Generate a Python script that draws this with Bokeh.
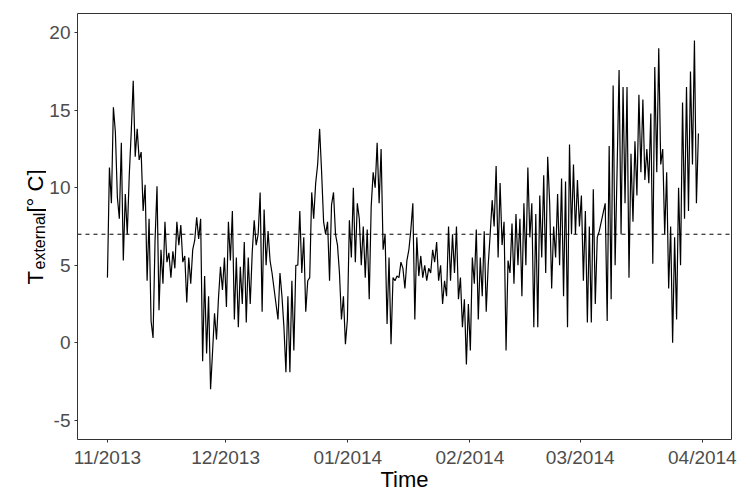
import math
import pandas as pd
from bokeh.plotting import figure
from bokeh.layouts import row
from bokeh.models import Span, Label, Range1d, MonthsTicker, DatetimeTickFormatter, FixedTicker
from bokeh.embed import file_html
from bokeh.resources import INLINE

# ---- data (two readings per day) ----
start_time = "2013-11-01 00:00"
end_time = "2014-03-31 00:00"

temp_nov = [4.2, 11.3, 9.0, 15.2, 13.6, 9.4, 8.0, 12.9, 5.3, 9.6, 7.0, 10.8, 13.6, 16.9, 12.0, 13.8,
            11.8, 12.3, 8.5, 10.2, 4.0, 8.0, 1.4, 0.3, 6.6, 10.1, 2.1, 6.0, 3.8, 7.8, 5.2, 5.8,
            4.2, 5.9, 4.8, 7.8, 6.3, 7.6, 5.2, 5.6, 2.6, 5.5, 3.8, 6.0, 6.6, 8.1, 6.7, 8.0]
temp_dec = [-1.2, 4.3, -0.7, 3.0, -3.0, -0.6, 1.9, 0.2, 2.9, 4.9, 3.4, 5.5, 2.3, 7.8, 5.3, 8.5,
            1.5, 5.5, 1.0, 4.9, 2.5, 6.5, 1.3, 5.5, 2.5, 5.8, 7.9, 6.3, 7.0, 9.7, 2.0, 8.6,
            5.0, 7.2, 5.3, 4.5, 3.5, 2.5, 1.5, 4.5, 3.0, 1.0, -1.9, 3.0, -1.9, 4.0, -0.5, 5.0]
temp_jan = [5.0, 8.5, 4.5, 6.8, 2.0, 4.0, 4.2, 9.7, 8.0, 10.3, 11.5, 13.8, 11.0, 7.8, 7.0, 7.8,
            4.0, 8.9, 9.7, 7.0, 6.3, 4.5, 1.5, 3.0, -0.1, 1.5, 7.9, 5.5, 10.0, 5.2, 9.0, 8.0,
            5.0, 7.5, 4.2, 7.3, 2.8, 8.8, 11.0, 10.0, 12.9, 9.0, 12.5, 6.0, 7.0, 1.2, 5.5]
temp_feb = [-0.1, 4.2, 4.0, 4.3, 4.2, 5.2, 4.8, 3.5, 5.3, 6.0, 7.3, 9.0, 1.5, 6.8, 4.3, 5.6,
            4.2, 5.0, 4.0, 4.8, 4.5, 6.0, 5.2, 6.5, 4.0, 5.0, 2.5, 4.0, 3.0, 7.5, 4.0, 7.0,
            4.5, 7.5, 2.8, 4.2, 1.0, 2.8, -1.4, 2.5, -0.5, 5.5, 3.8, 7.3, 1.5, 5.5, 3.0, 7.2]
temp_feb2 = [2.0, 5.0, 7.0, 9.2, 7.5, 11.4, 5.5, 10.3, 6.3, 7.8, -0.5, 5.3, 4.5, 7.7, 3.8, 8.3,
             5.0, 8.0, 3.0, 9.0, 5.0, 11.3, 6.8, 9.0, 1.0, 8.3, 1.0, 9.5, 5.5, 10.8, 4.5, 12.0,
             9.0, 3.5, 7.5, 5.5, 9.6, 5.0, 10.6, 3.0, 10.4, 1.0, 12.8, 7.0, 11.5, 7.0, 10.5, 7.5]
temp_mar = [9.5, 4.0, 8.5, 1.3, 7.5, 1.3, 9.9, 2.5, 6.8, 7.2, 7.8, 8.4, 9.0, 1.4, 12.7, 2.8,
            16.6, 5.0, 11.2, 17.6, 7.0, 16.5, 9.0, 16.5, 4.2, 12.2, 7.8, 13.0, 9.5, 16.0, 11.0, 15.7,
            10.5, 12.5, 10.3, 14.8, 5.1, 17.8, 11.0, 19.0, 11.5, 12.5, 7.0, 11.0, 3.5, 7.5, 0.0, 6.8,
            1.5, 10.0, 5.0, 15.5, 8.0, 16.5, 8.5, 17.5, 11.5, 19.5, 9.0, 13.5]

reference_temp = 7.0
y_ticks = [-5, 0, 5, 10, 15, 20]
y_tick_labels = {-5: "-5", 0: "0", 5: "5", 10: "10", 15: "15", 20: "20"}

temps = temp_nov + temp_dec + temp_jan + temp_feb + temp_feb2 + temp_mar
times = pd.date_range(start_time, end_time, periods=len(temps))

# ---- geometry (picture pixels) ----
TOTAL_W, TOTAL_H = 750, 500
LW = 46                                   # width of the narrow title strip on the left
FL, FR, FT, FB = 76, 731, 13, 439         # frame edges in the picture
day_ms = 86400000.0
t0 = pd.Timestamp("2013-11-01").value / 1e6
x_start = t0 - 7.6 * day_ms
x_end = t0 + 158.4 * day_ms
y_lo, y_hi = -6.25, 21.25
FONT = "Liberation Sans"

# ---- left strip holding the rotated y title; its frame matches the main frame vertically ----
lt = figure(width=LW, height=TOTAL_H, output_backend="svg", toolbar_location=None,
            x_range=Range1d(0, LW), y_range=Range1d(TOTAL_H - FB, TOTAL_H - FT),
            x_axis_location=None, y_axis_location=None,
            min_border_left=0, min_border_right=0,
            min_border_top=FT, min_border_bottom=TOTAL_H - FB)
lt.outline_line_color = None
lt.background_fill_color = "white"
lt.border_fill_color = "white"
lt.xgrid.grid_line_color = None
lt.ygrid.grid_line_color = None

def up(py):
    return TOTAL_H - py

lt.add_layout(Label(x=35, y=up(284), text="T", text_font=FONT, text_font_size="22px",
                    text_color="black", angle=math.pi / 2, text_align="left",
                    text_baseline="alphabetic"))
lt.add_layout(Label(x=39, y=up(269), text="external", text_font=FONT, text_font_size="16px",
                    text_color="black", angle=math.pi / 2, text_align="left",
                    text_baseline="alphabetic"))
lt.add_layout(Label(x=35, y=up(212), text="[° C]", text_font=FONT, text_font_size="22px",
                    text_color="black", angle=math.pi / 2, text_align="left",
                    text_baseline="alphabetic"))

# ---- main plot ----
p = figure(width=TOTAL_W - LW, height=TOTAL_H, x_axis_type="datetime", output_backend="svg",
           toolbar_location=None, x_range=Range1d(x_start, x_end),
           y_range=Range1d(y_lo, y_hi),
           min_border_left=FL - LW, min_border_right=TOTAL_W - FR,
           min_border_top=FT, min_border_bottom=TOTAL_H - FB)
p.background_fill_color = "white"
p.border_fill_color = "white"
p.outline_line_color = "#333333"
p.outline_line_width = 1
p.xgrid.grid_line_color = None
p.ygrid.grid_line_color = None

p.line(x=times, y=temps, line_color="black", line_width=1.2)
p.add_layout(Span(location=reference_temp, dimension="width", line_color="black",
                  line_width=1, line_dash="4 4"))

for ax in (p.xaxis[0], p.yaxis[0]):
    ax.axis_line_color = None
    ax.major_tick_line_color = "#333333"
    ax.major_tick_out = 3
    ax.major_tick_in = 0
    ax.minor_tick_line_color = None
    ax.major_label_text_font = FONT
    ax.major_label_text_font_size = "19px"
    ax.major_label_text_color = "#4D4D4D"

p.xaxis.ticker = MonthsTicker(months=list(range(12)))
fmt = "%m/%Y"
p.xaxis.formatter = DatetimeTickFormatter(days=fmt, months=fmt, years=fmt, hours=fmt)
p.xaxis.major_label_standoff = 4
p.xaxis.axis_label = "Time"
p.xaxis.axis_label_text_font = FONT
p.xaxis.axis_label_text_font_size = "22px"
p.xaxis.axis_label_text_font_style = "normal"
p.xaxis.axis_label_text_color = "black"
p.xaxis.axis_label_standoff = -4

p.yaxis.ticker = FixedTicker(ticks=y_ticks)
p.yaxis.major_label_overrides = y_tick_labels
p.yaxis.major_label_standoff = 4

layout = row(lt, p, spacing=0)
open("out.html", "w").write(file_html(layout, INLINE))
